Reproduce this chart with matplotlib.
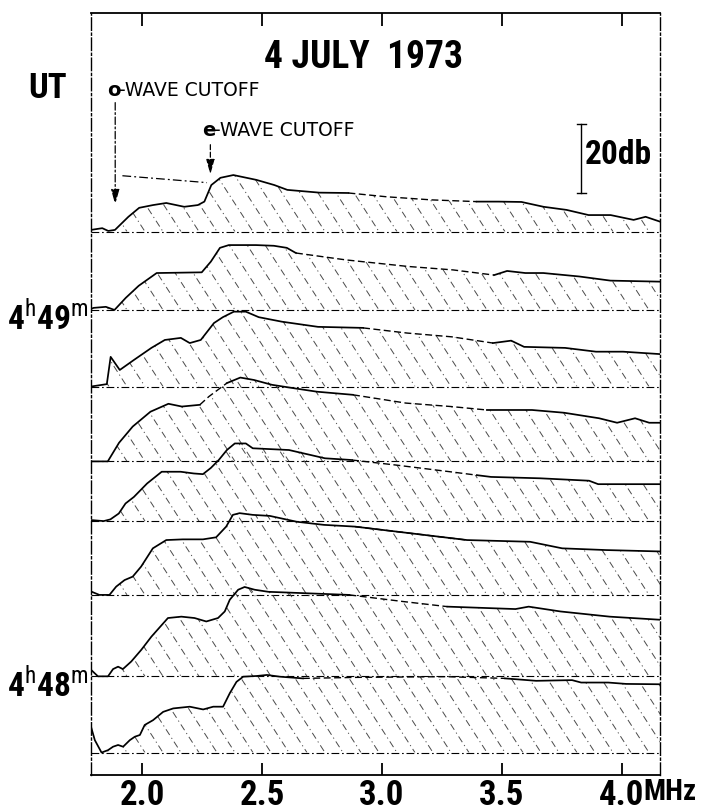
import numpy as np
import matplotlib
matplotlib.use("Agg")
import matplotlib.pyplot as plt
from matplotlib import transforms
from matplotlib.collections import LineCollection

# ---- spectra: frequency (MHz) and relative level above each baseline (dB) ----
freq_t1 = [1.786, 1.833, 1.858, 1.886, 1.942, 1.987, 2.045, 2.10, 2.175, 2.232, 2.259, 2.288,
           2.326, 2.38, 2.476, 2.551, 2.605, 2.739, 2.86, 3.019, 3.207, 3.395, 3.486, 3.582,
           3.674, 3.77, 3.862, 3.954, 4.05, 4.10, 4.16]
db_t1 = [0.5, 1.0, 0.2, 0.5, 4.3, 6.9, 7.7, 8.3, 7.2, 7.7, 8.7, 13.5,
         15.6, 16.4, 15.0, 13.5, 12.1, 11.3, 11.2, 10.1, 9.2, 8.7, 8.7, 8.6,
         7.2, 6.3, 4.8, 4.8, 3.4, 4.3, 2.9]

freq_t2 = [1.786, 1.797, 1.848, 1.884, 1.931, 1.985, 2.06, 2.155, 2.248, 2.286, 2.324, 2.361,
           2.474, 2.549, 2.603, 2.641, 2.85, 3.109, 3.297, 3.468, 3.522, 3.598, 3.673, 3.823,
           3.953, 4.16]
db_t2 = [0.3, 0.6, 0.9, 0.0, 3.5, 7.0, 10.7, 10.8, 10.9, 14.0, 18.0, 18.8,
         18.8, 18.6, 18.0, 16.5, 14.5, 12.6, 11.6, 10.1, 11.3, 10.7, 10.7, 9.7,
         8.5, 8.2]

freq_t3 = [1.786, 1.852, 1.868, 1.906, 1.965, 2.038, 2.094, 2.161, 2.198, 2.244, 2.299, 2.336,
           2.382, 2.432, 2.486, 2.582, 2.733, 2.921, 3.105, 3.292, 3.463, 3.539, 3.593, 3.764,
           3.893, 4.006, 4.16]
db_t3 = [0.0, 0.7, 8.6, 4.8, 7.7, 11.2, 13.5, 14.1, 12.6, 13.5, 18.4, 20.1,
         21.7, 21.7, 20.1, 18.8, 17.3, 17.0, 15.5, 14.4, 12.6, 13.3, 11.5, 11.2,
         10.1, 10.1, 9.4]

freq_t4 = [1.786, 1.856, 1.903, 1.960, 2.034, 2.109, 2.165, 2.24, 2.278, 2.353, 2.409, 2.466,
           2.541, 2.633, 2.729, 2.879, 3.10, 3.288, 3.438, 3.626, 3.76, 3.906, 3.981, 4.056,
           4.115, 4.16]
db_t4 = [0.0, 0.0, 5.4, 10.1, 14.4, 16.7, 15.9, 16.4, 18.8, 22.7, 24.3, 23.6,
         22.2, 21.2, 20.2, 19.3, 16.9, 15.9, 14.9, 14.9, 14.1, 12.5, 11.2, 12.5,
         11.2, 11.2]

freq_t5 = [1.786, 1.839, 1.867, 1.902, 1.93, 1.965, 2.02, 2.081, 2.16, 2.215, 2.253, 2.286,
           2.319, 2.353, 2.386, 2.432, 2.461, 2.612, 2.762, 2.875, 3.063, 3.284, 3.397, 3.455,
           3.66, 3.864, 3.902, 4.16]
db_t5 = [0.3, 0.0, 0.5, 2.2, 5.1, 7.0, 10.9, 14.3, 14.3, 13.8, 13.6, 15.4,
         17.7, 20.6, 22.5, 22.5, 21.1, 20.6, 18.2, 17.7, 16.2, 14.3, 13.3, 12.8,
         12.4, 11.7, 10.7, 10.7]

freq_t6 = [1.786, 1.821, 1.863, 1.891, 1.926, 1.96, 1.995, 2.044, 2.10, 2.169, 2.253, 2.308,
           2.35, 2.378, 2.406, 2.461, 2.532, 2.645, 2.758, 2.887, 3.355, 3.618, 3.752, 3.935,
           4.16]
db_t6 = [1.0, 0.0, 0.0, 2.4, 4.3, 5.3, 8.2, 13.5, 15.9, 16.1, 16.1, 16.7,
         19.8, 23.2, 23.7, 23.2, 22.9, 21.2, 20.3, 19.8, 15.9, 15.4, 13.5, 13.0,
         12.6]

freq_t7 = [1.786, 1.815, 1.857, 1.878, 1.899, 1.919, 1.954, 1.996, 2.038, 2.107, 2.163, 2.218,
           2.267, 2.316, 2.344, 2.365, 2.40, 2.427, 2.469, 2.526, 2.752, 2.864, 3.086, 3.273,
           3.557, 3.612, 3.745, 3.95, 4.16]
db_t7 = [1.9, 0.0, 0.0, 2.1, 2.8, 2.1, 4.3, 7.7, 11.5, 16.9, 17.3, 16.9,
         15.9, 16.9, 18.8, 22.2, 25.1, 25.9, 25.1, 24.5, 23.9, 23.6, 21.7, 20.2,
         19.5, 20.2, 18.8, 17.3, 16.4]

freq_t8 = [1.786, 1.802, 1.83, 1.857, 1.878, 1.899, 1.92, 1.948, 1.969, 1.99, 2.01, 2.045,
           2.087, 2.129, 2.198, 2.254, 2.296, 2.337, 2.365, 2.393, 2.421, 2.477, 2.52, 2.574,
           2.67, 2.896, 3.267, 3.514, 3.643, 3.793, 3.831, 3.944, 4.019, 4.16]
db_t8 = [7.5, 3.6, 0.0, 0.7, 1.7, 2.2, 1.7, 3.6, 4.6, 5.1, 8.0, 9.4,
         11.8, 12.8, 13.3, 12.5, 13.3, 13.3, 17.2, 20.5, 22.0, 22.2, 22.5, 22.0,
         21.5, 21.8, 22.0, 21.5, 20.8, 21.0, 20.3, 20.3, 19.9, 19.8]

# frequency ticks
tick_mhz = [2.0, 2.5, 3.0, 3.5, 4.0]
tick_labels = ["2.0", "2.5", "3.0", "3.5", "4.0"]

# time labels attached to the 2nd and 7th records (top to bottom)
time_labels = {1: r"$\mathbf{4}^{\mathrm{h}}\mathbf{49}^{\mathrm{m}}$",
               6: r"$\mathbf{4}^{\mathrm{h}}\mathbf{48}^{\mathrm{m}}$"}

# vertical stacking of the records (dB above the bottom of the frame)
baselines = [157.5, 134.8, 112.6, 90.9, 73.6, 52.2, 28.6, 6.5]
# stretches of each record drawn as an interpolated (dashed) envelope
dashed_spans = [[(2.86, 3.395)], [(2.641, 3.468)], [(2.921, 3.463)],
                [(2.24, 2.353), (2.879, 3.438)], [(2.875, 3.397)], [(2.887, 3.355)],
                [(2.864, 3.273)], [(2.67, 3.514)]]

freqs = [freq_t1, freq_t2, freq_t3, freq_t4, freq_t5, freq_t6, freq_t7, freq_t8]
levels = [db_t1, db_t2, db_t3, db_t4, db_t5, db_t6, db_t7, db_t8]

# ---- style ----
COND = "Roboto Condensed"
plt.rcParams.update({
    "mathtext.fontset": "custom",
    "mathtext.bf": COND + ":bold",
    "mathtext.rm": COND,
    "font.family": ["DejaVu Sans"],
})
bold_cond = dict(fontfamily=COND, fontweight="bold")

W, H = 704, 811
fig = plt.figure(figsize=(W / 100, H / 100), dpi=100)
fig.patch.set_facecolor("white")
L, R, T, B = 91, 660, 13, 775
ax = fig.add_axes([L / W, 1 - B / H, (R - L) / W, (B - T) / H])
XMIN, XMAX = 1.786, 4.16
YMAX = (B - T) / 3.45
ax.set_xlim(XMIN, XMAX)
ax.set_ylim(0, YMAX)
px_per_x = (R - L) / (XMAX - XMIN)
px_per_y = (B - T) / YMAX

for sp in ("left", "right"):
    ax.spines[sp].set_linestyle((0, (9, 2, 1.5, 2)))
    ax.spines[sp].set_linewidth(1.0)
for sp in ("top", "bottom"):
    ax.spines[sp].set_linewidth(1.3)

ax.set_yticks([])
ax.set_xticks(tick_mhz)
ax.set_xticklabels(tick_labels, fontsize=25, **bold_cond)
ax.tick_params(axis="x", direction="in", length=9, width=1.3, top=True, pad=3)


def hatch_region(poly, y_lo, y_hi, spacing_px=18.0, steep=1.55):
    """Broken diagonal hatching clipped to a filled region."""
    run = (y_hi - y_lo) * px_per_y / steep / px_per_x
    step = spacing_px / px_per_x
    starts = np.arange(XMIN - run, XMAX + step, step)
    for k, s in enumerate(starts):
        lc = LineCollection([[(s, y_hi), (s + run, y_lo)]], colors="#4a4a4a",
                            linewidths=0.7,
                            linestyles=[((k * 4.7) % 14, (7, 3.5, 1.2, 3.5))])
        lc.set_clip_path(poly.get_paths()[0], ax.transData)
        ax.add_collection(lc)


env_dash = (0, (5, 2.5))
base_dash = (0, (7, 2.5, 1.5, 2.5))
label_tr = transforms.blended_transform_factory(ax.transAxes, ax.transData)
for i, (f, d) in enumerate(zip(freqs, levels)):
    f = np.asarray(f)
    y = baselines[i] + np.asarray(d)
    ax.axhline(baselines[i], color="black", lw=0.8, ls=base_dash)
    poly = ax.fill_between(f, baselines[i], y, facecolor="none", edgecolor="none", linewidth=0)
    hatch_region(poly, baselines[i], y.max())
    inner = np.zeros(len(f), bool)
    span_mask = []
    for a, b in dashed_spans[i]:
        inner |= (f > a) & (f < b)
        span_mask.append((f >= a) & (f <= b))
    ax.plot(f, np.where(inner, np.nan, y), color="black", lw=1.25, solid_joinstyle="round")
    for m in span_mask:
        ax.plot(f[m], y[m], color="black", lw=1.0, ls=env_dash)
    if i in time_labels:
        ax.text(-0.004, baselines[i] - 2.6, time_labels[i], transform=label_tr,
                ha="right", va="center", fontsize=24)

# envelope extension toward the o-wave cutoff on the top record
ax.plot([1.917, 2.27], [baselines[0] + 16.2, baselines[0] + 14.2],
        color="black", lw=0.9, ls=base_dash)

# cutoff arrows
ax.annotate("", xy=(1.887, 164.6), xytext=(1.887, 195.7),
            arrowprops=dict(arrowstyle="-|>,head_length=0.9,head_width=0.25",
                            color="black", lw=0.9, ls=(0, (6, 2, 1.5, 2))))
ax.annotate("", xy=(2.284, 173.3), xytext=(2.284, 183.5),
            arrowprops=dict(arrowstyle="-|>,head_length=0.9,head_width=0.25",
                            color="black", lw=0.9, ls=(0, (4, 2))))

# 20 dB scale bar
ax.plot([3.832, 3.832], [168.7, 188.7], color="black", lw=1.0)
ax.plot([3.812, 3.852], [168.7, 168.7], color="black", lw=1.0)
ax.plot([3.812, 3.852], [188.7, 188.7], color="black", lw=1.0)


def fx(px):
    return px / W


def fy(py):
    return 1 - py / H


fig.text(fx(585), fy(155), "20db", fontsize=24, ha="left", va="center", **bold_cond)
fig.text(fx(363), fy(57), "4 JULY  1973", fontsize=27, ha="center", va="center", **bold_cond)
fig.text(fx(48), fy(89), "UT", fontsize=25, ha="center", va="center", **bold_cond)
fig.text(fx(107), fy(90), "o", fontfamily="DejaVu Sans", fontweight="bold",
         fontsize=14, ha="left", va="center")
fig.text(fx(119), fy(90), "-WAVE CUTOFF", fontfamily="DejaVu Sans", fontsize=13.5,
         ha="left", va="center")
fig.text(fx(202), fy(131), "e", fontfamily="DejaVu Sans", fontweight="bold",
         fontsize=14, ha="left", va="center")
fig.text(fx(214), fy(131), "-WAVE CUTOFF", fontfamily="DejaVu Sans", fontsize=13.5,
         ha="left", va="center")
fig.text(fx(643), fy(792), "MHz", fontsize=21, ha="left", va="center", **bold_cond)

fig.savefig("out.png", dpi=100, facecolor="white")
